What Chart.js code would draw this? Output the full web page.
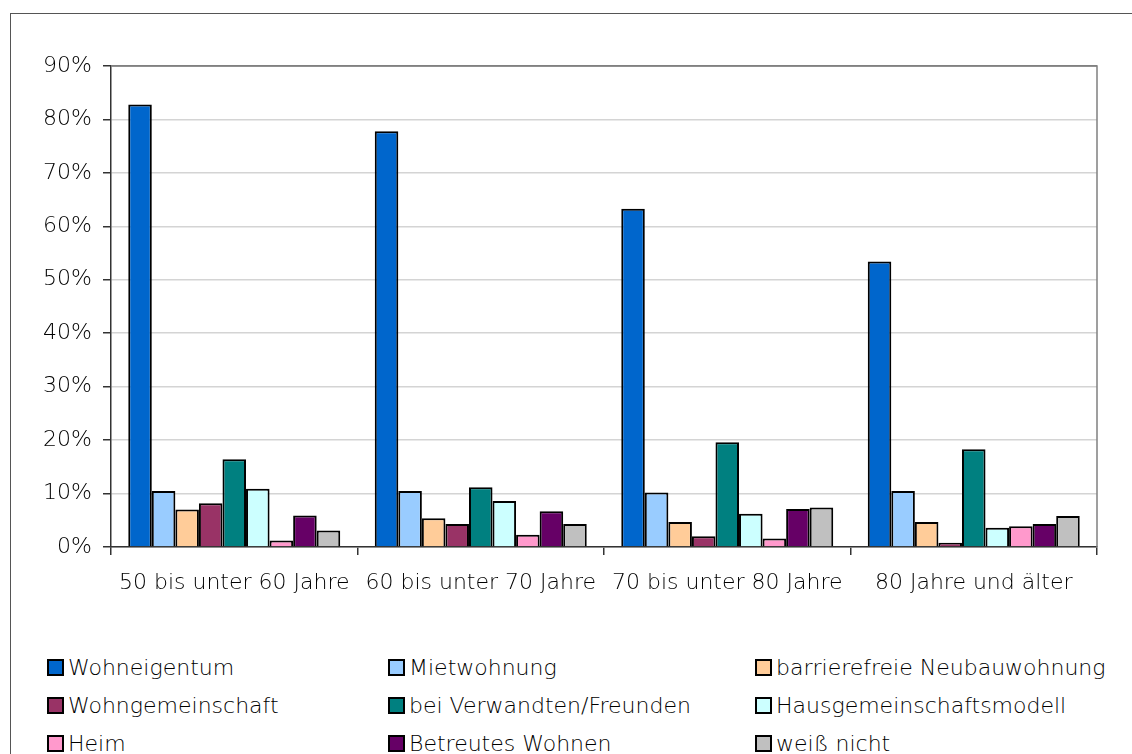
<!DOCTYPE html>
<html>
<head>
<meta charset="utf-8">
<script src="https://cdn.jsdelivr.net/npm/chart.js@4/dist/chart.umd.min.js"></script>
<style>
  body { margin: 0; background: #fff; width: 1132px; height: 754px; overflow: hidden; position: relative; font-family: "DejaVu Sans", sans-serif; }
  #frame { position: absolute; left: 10px; top: 13px; width: 1140px; height: 760px; border-left: 1.5px solid #555; border-top: 1.5px solid #555; }
  #wrap { position: absolute; left: 0; top: 0; width: 1132px; height: 610px; }
  #legend { position: absolute; left: 47px; top: 656px; display: grid; grid-template-columns: 341px 367px 360px; row-gap: 15px; }
  .item { display: flex; align-items: center; font-size: 22px; font-weight: 200; color: #000; height: 23px; white-space: nowrap; }
  .box { width: 13px; height: 13px; border: 2px solid #000; margin-right: 4px; flex: none; }
</style>
</head>
<body>
<div id="frame"></div>
<div id="wrap"><canvas id="chart"></canvas></div>
<div id="legend"></div>
<script>
var categories = ["50 bis unter 60 Jahre", "60 bis unter 70 Jahre", "70 bis unter 80 Jahre", "80 Jahre und älter"];
var seriesNames = ["Wohneigentum", "Mietwohnung", "barrierefreie Neubauwohnung", "Wohngemeinschaft",
                   "bei Verwandten/Freunden", "Hausgemeinschaftsmodell", "Heim", "Betreutes Wohnen", "weiß nicht"];
var seriesColors = ["#0066CC", "#99CCFF", "#FFCC99", "#993366", "#008080", "#CCFFFF", "#FF99CC", "#660066", "#C0C0C0"];

var wohneigentum = [82.8, 77.8, 63.3, 53.4];
var mietwohnung = [10.5, 10.5, 10.2, 10.5];
var barrierefrei = [7.0, 5.4, 4.7, 4.7];
var wohngemeinschaft = [8.2, 4.3, 2.0, 0.8];
var verwandte = [16.4, 11.2, 19.6, 18.3];
var hausgemeinschaft = [10.9, 8.6, 6.2, 3.6];
var heim = [1.2, 2.3, 1.6, 3.9];
var betreut = [5.9, 6.7, 7.1, 4.3];
var weissNicht = [3.1, 4.3, 7.4, 5.8];

var yTicks = [0, 10, 20, 30, 40, 50, 60, 70, 80, 90];

var seriesValues = [wohneigentum, mietwohnung, barrierefrei, wohngemeinschaft, verwandte,
                    hausgemeinschaft, heim, betreut, weissNicht];

var tickFont = { family: "DejaVu Sans", size: 22, weight: 200 };

var datasets = seriesNames.map(function (name, i) {
    return {
        label: name,
        data: seriesValues[i],
        backgroundColor: seriesColors[i],
        borderColor: "#000",
        borderWidth: 2,
        borderSkipped: "start",
        barPercentage: 1.0,
        categoryPercentage: 0.86
    };
});

// top and right edge of the plot area
var plotFrame = {
    id: "plotFrame",
    afterDatasetsDraw: function (chart) {
        var a = chart.chartArea, ctx = chart.ctx;
        ctx.save();
        ctx.strokeStyle = "#808080";
        ctx.lineWidth = 1.5;
        ctx.beginPath();
        ctx.moveTo(a.left, a.top);
        ctx.lineTo(a.right, a.top);
        ctx.lineTo(a.right, a.bottom);
        ctx.stroke();
        ctx.restore();
    }
};

var ctx = document.getElementById("chart").getContext("2d");
new Chart(ctx, {
    type: "bar",
    data: { labels: categories, datasets: datasets },
    plugins: [plotFrame],
    options: {
        responsive: true,
        maintainAspectRatio: false,
        animation: false,
        layout: { padding: { top: 66, right: 35, left: 0, bottom: 0 } },
        plugins: { legend: { display: false }, tooltip: { enabled: false } },
        scales: {
            x: {
                grid: { offset: true, drawOnChartArea: false, drawTicks: true, tickLength: 8, color: "#333", lineWidth: 1.5 },
                border: { color: "#333", width: 1.5 },
                ticks: { color: "#000", font: tickFont, padding: 15, maxRotation: 0, autoSkip: false },
                afterFit: function (s) { s.height = 63; }
            },
            y: {
                min: 0,
                max: 90,
                afterBuildTicks: function (s) { s.ticks = yTicks.map(function (v) { return { value: v }; }); },
                grid: {
                    color: function (c) { return c.tick && c.tick.value === 90 ? "#808080" : "#d4d4d4"; },
                    lineWidth: 1.5,
                    tickLength: 8,
                    tickColor: "#333"
                },
                border: { color: "#333", width: 1.5 },
                ticks: {
                    color: "#000",
                    font: tickFont,
                    padding: 11,
                    callback: function (v) { return v + "%"; }
                },
                afterFit: function (s) { s.width = 111; }
            }
        }
    }
});

// legend in three columns
var legend = document.getElementById("legend");
seriesNames.forEach(function (name, i) {
    var item = document.createElement("div");
    item.className = "item";
    var box = document.createElement("span");
    box.className = "box";
    box.style.background = seriesColors[i];
    item.appendChild(box);
    item.appendChild(document.createTextNode(name));
    legend.appendChild(item);
});
</script>
</body>
</html>
